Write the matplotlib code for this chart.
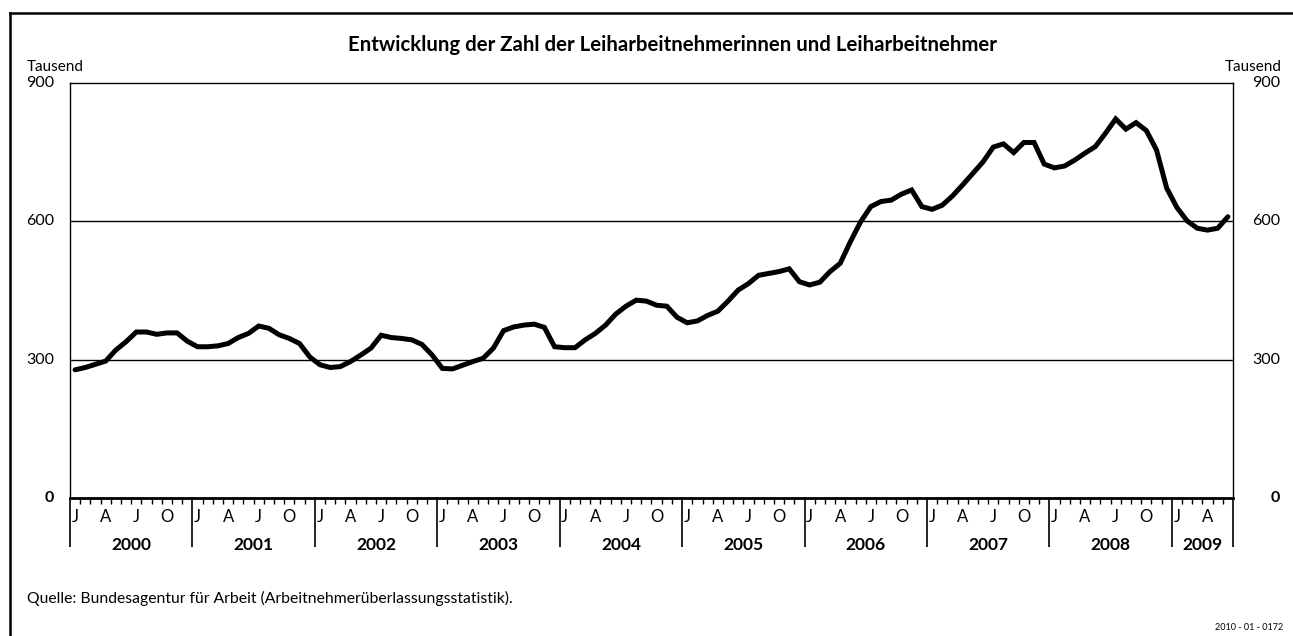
import numpy as np
import matplotlib
matplotlib.use('Agg')
import matplotlib.pyplot as plt
import matplotlib.transforms as mtransforms

plt.rcParams['font.family'] = ['Lato', 'DejaVu Sans']

# Leiharbeitnehmer in Tausend, monatlich Jan 2000 - Jun 2009
leiharbeit = [
    # 2000
    278, 283, 290, 297, 321, 339, 360, 360, 355, 358, 358, 340,
    # 2001
    328, 328, 330, 335, 348, 357, 373, 368, 354, 346, 335, 306,
    # 2002
    289, 283, 285, 296, 310, 325, 353, 348, 346, 343, 333, 310,
    # 2003
    281, 280, 288, 296, 303, 325, 363, 371, 375, 377, 370, 328,
    # 2004
    326, 326, 343, 357, 375, 399, 416, 429, 427, 418, 416, 392,
    # 2005
    380, 384, 396, 405, 427, 451, 465, 483, 487, 491, 497, 469,
    # 2006
    462, 468, 491, 509, 556, 599, 632, 643, 646, 659, 668, 632,
    # 2007
    626, 635, 655, 679, 704, 729, 761, 768, 749, 771, 771, 724,
    # 2008
    716, 720, 733, 748, 762, 791, 822, 800, 814, 797, 755, 672,
    # 2009
    630, 601, 585, 581, 585, 610,
]
years = ['2000', '2001', '2002', '2003', '2004', '2005', '2006', '2007', '2008', '2009']
month_labels = ['J', 'A', 'J', 'O']
month_label_idx = [0, 3, 6, 9]
y_ticks = [0, 300, 600, 900]

title = 'Entwicklung der Zahl der Leiharbeitnehmerinnen und Leiharbeitnehmer'
source = 'Quelle: Bundesagentur für Arbeit (Arbeitnehmerüberlassungsstatistik).'
code = '2010 - 01 - 0172'

n = len(leiharbeit)
x = np.arange(n) + 0.5

fig = plt.figure(figsize=(12.93, 6.36), dpi=100)
ax = fig.add_axes([70 / 1293, 1 - 498 / 636, 1163 / 1293, 415 / 636])

ax.plot(x, leiharbeit, color='black', linewidth=3.6, solid_joinstyle='miter',
        solid_capstyle='round', zorder=3)
for v in y_ticks[1:3]:
    ax.axhline(v, color='black', linewidth=1.0, zorder=1)

ax.set_xlim(0, n)
ax.set_ylim(0, 900)
for s in ['left', 'right', 'top']:
    ax.spines[s].set_linewidth(1.0)
ax.spines['bottom'].set_linewidth(2.0)

# month ticks (short) and year dividers (long)
year_starts = list(range(0, n, 12)) + [n]
month_ticks = [m for m in range(1, n) if m % 12 != 0]
ax.set_xticks(year_starts)
ax.set_xticks(month_ticks, minor=True)
ax.tick_params(axis='x', which='major', length=35, width=1.2, direction='out', labelbottom=False)
ax.tick_params(axis='x', which='minor', length=4, width=1.0, direction='out')
ax.set_yticks([])

trans_x = mtransforms.blended_transform_factory(ax.transData, ax.transAxes)
off = lambda dy: mtransforms.offset_copy(trans_x, fig=fig, y=dy, units='points')

for i, yr in enumerate(years):
    start = i * 12
    end = min(start + 12, n)
    for lab, k in zip(month_labels, month_label_idx):
        if start + k < end:
            ax.text(start + k + 0.5, 0, lab, transform=off(-8), ha='center', va='top', fontsize=12)
    ax.text((start + end) / 2, 0, yr, transform=off(-28), ha='center', va='top',
            fontsize=12.5, fontweight='bold')

# y labels on both sides
trans_y = mtransforms.blended_transform_factory(fig.transFigure, ax.transData)
for v in y_ticks:
    w = 'bold' if v == 0 else 'normal'
    ax.text(54 / 1293, v, str(v), transform=trans_y, ha='right', va='center',
            fontsize=11.5, fontweight=w)
    ax.text(1280 / 1293, v, str(v), transform=trans_y, ha='right', va='center',
            fontsize=11.5, fontweight=w)
fig.text(27 / 1293, 1 - 67 / 636, 'Tausend', ha='left', va='center', fontsize=11)
fig.text(1282 / 1293, 1 - 67 / 636, 'Tausend', ha='right', va='center', fontsize=11)

fig.text(672 / 1293, 1 - 45 / 636, title, ha='center', va='center', fontsize=14.7, fontweight='bold')
fig.text(27 / 1293, 1 - 598 / 636, source, ha='left', va='center', fontsize=11.3)
fig.text(1283 / 1293, 1 - 627 / 636, code, ha='right', va='center', fontsize=6.5)

# outer frame (top and left edge)
fig.add_artist(plt.Line2D([10 / 1293, 10 / 1293], [0, 1 - 12.5 / 636], color='black',
                          linewidth=1.8, transform=fig.transFigure))
fig.add_artist(plt.Line2D([10 / 1293, 1], [1 - 12.5 / 636, 1 - 12.5 / 636], color='black',
                          linewidth=1.8, transform=fig.transFigure))

fig.savefig('out.png', dpi=100)
